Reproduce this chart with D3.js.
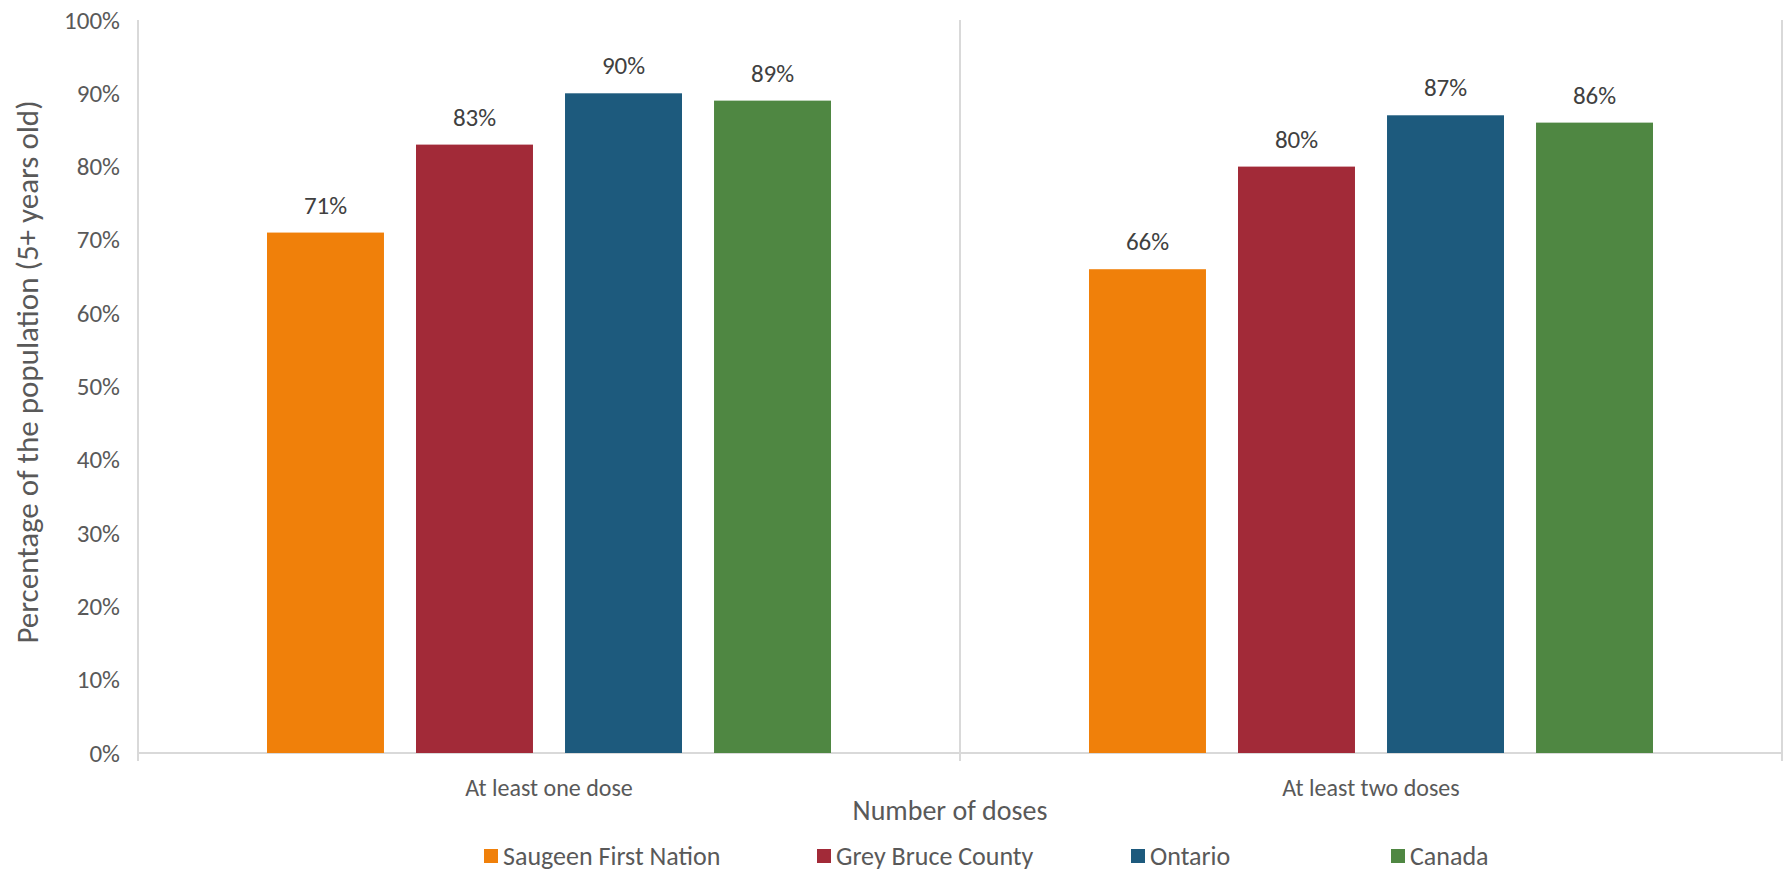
<!DOCTYPE html>
<html>
<head>
<meta charset="utf-8">
<script src="https://cdn.jsdelivr.net/npm/d3@7"></script>
<style>
  body { margin: 0; background: #fff; }
  svg text { font-family: Calibri, Carlito, Lato, "Open Sans", sans-serif; }
</style>
</head>
<body>
<div id="grafico"></div>
<script>
// datos
const CATEGORIAS = ["At least one dose", "At least two doses"];
const SERIES = ["Saugeen First Nation", "Grey Bruce County", "Ontario", "Canada"];
const VALORES = {
    "Saugeen First Nation": [71, 66],
    "Grey Bruce County": [83, 80],
    "Ontario": [90, 87],
    "Canada": [89, 86]
};
const TICKS_Y = [0, 10, 20, 30, 40, 50, 60, 70, 80, 90, 100];
const COLORES = ["#F0800A", "#A22A38", "#1D5A7D", "#4F8742"];

const WIDTH = 1789;
const HEIGHT = 874;
const LEFT = 138, RIGHT = 1782, TOP = 20, BASE = 753;

const SVG = d3.select("#grafico").append("svg").attr("width", WIDTH).attr("height", HEIGHT);

var escalaX0 = d3.scaleBand().domain(CATEGORIAS).range([LEFT, RIGHT]).padding(0);
var escalaX1 = d3.scaleBand().domain(SERIES)
    .range([129, escalaX0.bandwidth() - 129])
    .paddingInner(0.215).paddingOuter(0);
var escalaY = d3.scaleLinear().domain([0, 100]).range([BASE, TOP]);
var color = d3.scaleOrdinal().domain(SERIES).range(COLORES);

// lineas verticales (limites de categoria)
var limites = CATEGORIAS.map(c => escalaX0(c)).concat([escalaX0.range()[1]]);
SVG.selectAll(".vline").data(limites).enter().append("line")
    .attr("x1", d => d).attr("x2", d => d)
    .attr("y1", TOP).attr("y2", BASE + 8)
    .attr("stroke", "#D9D9D9").attr("stroke-width", 2);

// eje y
var ejeY = d3.axisLeft(escalaY).tickValues(TICKS_Y).tickSize(0).tickPadding(18)
    .tickFormat(d => d + "%");
SVG.append("g").attr("transform", "translate(" + LEFT + ",0)").call(ejeY)
    .call(g => g.select(".domain").remove())
    .selectAll("text")
    .attr("font-size", 25).attr("fill", "#595959");

// eje x
SVG.append("line").attr("x1", LEFT).attr("x2", RIGHT).attr("y1", BASE).attr("y2", BASE)
    .attr("stroke", "#D9D9D9").attr("stroke-width", 2);

var grupos = SVG.selectAll(".grupo").data(CATEGORIAS).enter().append("g")
    .attr("class", "grupo")
    .attr("transform", d => "translate(" + escalaX0(d) + ",0)");

grupos.selectAll("rect")
    .data((c, i) => SERIES.map(s => ({ serie: s, valor: VALORES[s][i] })))
    .enter().append("rect")
    .attr("x", d => escalaX1(d.serie))
    .attr("y", d => escalaY(d.valor))
    .attr("width", escalaX1.bandwidth())
    .attr("height", d => BASE - escalaY(d.valor))
    .attr("fill", d => color(d.serie));

grupos.selectAll(".etiqueta")
    .data((c, i) => SERIES.map(s => ({ serie: s, valor: VALORES[s][i] })))
    .enter().append("text")
    .attr("class", "etiqueta")
    .attr("x", d => escalaX1(d.serie) + escalaX1.bandwidth() / 2)
    .attr("y", d => escalaY(d.valor) - 19)
    .attr("text-anchor", "middle")
    .attr("font-size", 25).attr("fill", "#404040")
    .text(d => d.valor + "%");

grupos.append("text")
    .attr("x", escalaX0.bandwidth() / 2)
    .attr("y", 796)
    .attr("text-anchor", "middle")
    .attr("font-size", 24).attr("fill", "#595959")
    .text(d => d);

// titulos
SVG.append("text").attr("x", 950).attr("y", 820).attr("text-anchor", "middle")
    .attr("font-size", 28).attr("fill", "#595959").text("Number of doses");
SVG.append("text")
    .attr("transform", "translate(38,372) rotate(-90)")
    .attr("text-anchor", "middle")
    .attr("font-size", 31).attr("fill", "#595959")
    .text("Percentage of the population (5+ years old)");

// leyenda
const LEYENDA_X = [484, 817, 1131, 1391];
var leyenda = SVG.selectAll(".leyenda").data(SERIES).enter().append("g")
    .attr("class", "leyenda")
    .attr("transform", (d, i) => "translate(" + LEYENDA_X[i] + ",849)");
leyenda.append("rect").attr("width", 14).attr("height", 14).attr("fill", d => color(d));
leyenda.append("text").attr("x", 19).attr("y", 7).attr("dy", ".35em")
    .attr("font-size", 26).attr("fill", "#595959").text(d => d);
</script>
</body>
</html>
